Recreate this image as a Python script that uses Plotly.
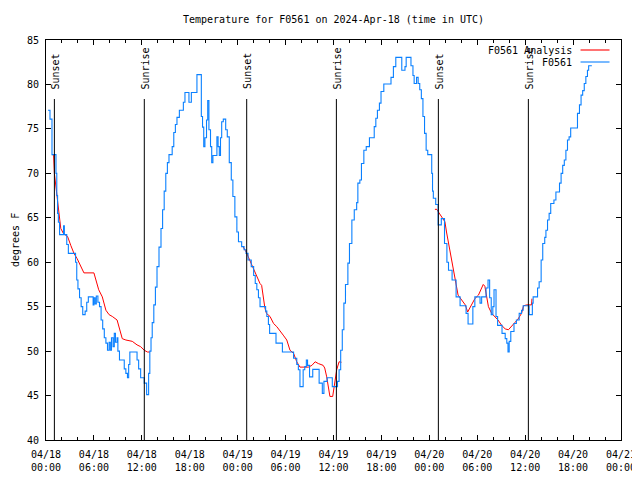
import datetime as dt
import plotly.graph_objects as go

START = dt.datetime(2024, 4, 18, 0, 0)

# ---- observed station data F0561 (hours since 04/18 00:00 UTC, deg F)
obs_hours = [0.25, 0.5, 0.75, 1.25, 1.35, 1.45, 1.55, 1.7, 2.2, 2.3, 2.6, 2.8, 3.7, 3.85, 4.0, 4.2, 4.4, 4.6,
             4.9, 5.1, 5.3, 5.9, 6.0, 6.15, 6.3, 6.5, 6.7, 6.9, 7.1, 7.3, 7.5, 7.7, 7.9, 8.05, 8.2, 8.4, 8.55,
             8.7, 8.9, 9.0, 9.2, 9.8, 10.0, 10.2, 10.35, 10.5, 11.4, 11.6, 11.85, 12.3, 12.6, 12.85, 13.0,
             13.15, 13.3, 13.5, 13.7, 13.9, 14.15, 14.4, 14.6, 14.8, 15.0, 15.2, 15.4, 15.8, 16.0, 16.2, 16.4,
             16.7, 17.2, 17.4, 17.9, 18.2, 18.9, 19.45, 19.6, 19.75, 19.9, 20.1, 20.25, 20.4, 20.6, 20.75,
             20.9, 21.4, 21.55, 21.7, 21.85, 22.0, 22.2, 22.5, 22.7, 22.95, 23.2, 23.4, 23.65, 23.9, 24.1,
             24.5, 24.8, 25.05, 25.3, 25.7, 26.0, 26.2, 26.4, 26.6, 26.8, 27.5, 27.65, 27.85, 28.0, 28.8,
             29.6, 31.0, 31.4, 31.6, 31.8, 32.2, 32.4, 32.6, 32.75, 33.0, 33.4, 34.2, 34.6, 34.8, 35.2,
             35.85, 36.5, 36.7, 36.9, 37.1, 37.3, 37.5, 37.8, 38.0, 38.3, 38.6, 38.9, 39.05, 39.3, 39.5,
             39.8, 40.1, 40.5, 41.1, 41.3, 41.5, 41.75, 41.95, 42.3, 43.2, 43.5, 43.8, 44.55, 44.95, 45.1,
             45.7, 45.95, 46.1, 46.4, 46.6, 46.8, 47.0, 47.2, 47.4, 47.6, 47.8, 48.3, 48.4, 48.5, 48.8,
             49.1, 49.5, 49.9, 50.2, 50.4, 50.85, 51.35, 51.85, 52.6, 52.85, 53.45, 53.7, 54.35, 54.55,
             55.1, 55.35, 55.55, 55.75, 55.95, 56.1, 56.35, 56.55, 57.1, 57.5, 57.7, 57.85, 58.0, 58.2,
             58.6, 58.9, 59.25, 59.55, 59.75, 60.5, 60.9, 61.0, 61.55, 61.75, 62.0, 62.2, 62.45, 62.6,
             62.8, 63.0, 63.2, 63.6, 63.85, 64.3, 64.5, 64.7, 64.9, 65.1, 65.3, 65.5, 65.7, 66.55, 66.8,
             67.0, 67.2, 67.4, 67.6, 67.8, 67.95, 68.35]
obs_temps = [77.1, 76.1, 72.1, 70.0, 67.5, 65.5, 64.5, 63.1, 64.1, 63.1, 62.0, 61.0, 60.0, 58.0, 57.0, 56.0, 55.0, 54.1,
             54.5, 55.5, 56.1, 55.2, 56.0, 55.3, 56.2, 55.5, 55.0, 53.5, 52.5, 51.5, 50.9, 50.1, 51.0, 50.1, 51.5, 50.5, 52.0,
             51.0, 51.5, 50.0, 49.0, 48.0, 47.5, 47.0, 48.5, 49.9, 49.0, 48.0, 47.0, 46.4, 45.1, 47.5, 50.0,
             51.5, 53.2, 55.2, 57.2, 59.5, 61.7, 63.8, 65.9, 68.0, 70.0, 71.2, 72.1, 73.0, 74.6, 75.5, 76.3,
             77.1, 78.0, 79.1, 78.0, 79.1, 81.1, 76.4, 75.2, 73.0, 74.0, 76.0, 78.2, 74.9, 73.0, 71.2,
             72.0, 74.1, 73.0, 72.0, 74.0, 75.8, 76.1, 74.9, 74.1, 71.2, 69.25, 67.4, 65.1, 63.4, 62.3,
             61.75, 61.4, 61.0, 60.25, 59.5, 58.5, 57.6, 56.9, 56.0, 55.0, 54.5, 53.9, 53.0, 52.0, 50.9,
             49.9, 49.2, 48.5, 47.9, 46.0, 47.9, 48.25, 49.0, 48.4, 47.1, 47.95, 46.4, 45.25, 46.6, 47.0,
             46.0, 46.6, 47.9, 50.1, 52.4, 55.4, 57.5, 59.9, 62.1, 64.75, 65.9, 66.7, 68.9, 69.25, 71.1,
             72.6, 73.0, 74.0, 75.25, 76.2, 77.1, 77.9, 79.2, 80.05, 80.8, 82.0, 83.05, 81.6, 82.0, 83.05,
             82.1, 81.0, 80.1, 80.8, 80.1, 79.4, 78.4, 76.4, 74.5, 72.6, 72.1, 70.0, 68.0, 67.2, 66.5,
             64.2, 64.9, 62.1, 60.0, 59.1, 58.0, 56.1, 55.1, 54.25, 53.05, 55.0, 56.1, 55.4, 56.1,
             57.1, 58.0, 56.0, 54.1, 55.0, 56.9, 53.9, 52.9, 52.0, 51.4, 50.9, 49.9, 51.1, 52.2,
             53.1, 53.5, 54.25, 54.6, 55.1, 54.1, 55.4, 56.1, 57.1, 57.8, 60.25, 62.1, 62.8, 63.6,
             64.75, 65.5, 66.6, 67.0, 67.9, 68.9, 70.0, 70.9, 71.5, 72.6, 73.75, 74.1, 75.1, 76.75, 77.7,
             78.8, 79.3, 80.1, 80.9, 81.6, 82.1, 82.1]

# ---- analysis (three night segments)
ana_hours_1 = [0.75, 0.95, 1.05, 1.25, 1.45, 1.6, 1.85, 2.2, 2.7, 3.1, 3.5, 3.9, 4.35, 4.75, 6.0, 6.2, 6.6,
               7.05, 7.5, 7.9, 8.3, 8.9, 9.2, 9.55, 10.0, 10.4, 10.8, 11.4, 11.85, 12.3, 12.7, 13.0]
ana_temps_1 = [72.1, 72.1, 70.0, 68.5, 66.6, 65.5, 63.8, 63.2, 62.9, 61.9, 61.0, 60.4, 59.5, 58.8, 58.8, 58.2, 56.9,
               56.1, 54.6, 54.1, 53.9, 53.5, 52.5, 51.4, 51.25, 51.2, 51.1, 50.7, 50.5, 50.1, 49.9, 49.9]
ana_hours_2 = [24.7, 25.1, 25.5, 25.95, 26.4, 26.8, 27.0, 27.2, 27.4, 27.6, 28.05, 28.5, 28.9, 29.7, 30.15,
               30.55, 31.0, 31.4, 31.8, 32.85, 33.3, 33.7, 34.1, 34.7, 34.9, 35.15, 35.35, 35.55, 35.9,
               36.05, 36.4, 36.7, 37.0]
ana_temps_2 = [61.7, 61.1, 60.25, 59.3, 58.4, 57.6, 57.4, 56.1, 54.9, 54.25, 53.9, 53.1, 52.75, 51.8, 51.25,
               50.1, 49.75, 48.8, 48.2, 48.2, 48.4, 48.8, 48.6, 48.4, 48.1, 47.1, 45.8, 44.9, 44.9,
               46.0, 47.9, 48.8, 48.75]
ana_hours_3 = [48.7, 48.95, 49.1, 49.55, 49.95, 50.15, 50.4, 50.8, 51.2, 51.6, 52.05, 52.5, 52.8, 53.3, 53.7,
               54.15, 54.75, 54.95, 55.2, 55.4, 55.8, 56.2, 56.6, 57.05, 57.5, 57.9, 58.3, 58.7, 59.1,
               59.55, 59.8, 60.2, 60.8, 60.85]
ana_temps_3 = [65.95, 65.95, 65.7, 65.1, 64.55, 63.4, 62.1, 60.25, 58.4, 56.3, 55.75, 55.2, 54.4, 55.2, 55.9,
               56.3, 57.5, 57.3, 56.1, 55.0, 54.25, 53.9, 53.5, 52.9, 52.5, 52.4, 52.75, 53.2, 53.6,
               54.25, 55.1, 55.2, 55.2, 55.9]

# ---- sun events (hours since start) and labels
event_hours = [1.05, 12.31, 25.13, 36.36, 49.13, 60.4]
event_labels = ["Sunset", "Sunrise", "Sunset", "Sunrise", "Sunset", "Sunrise"]

y_ticks = [40, 45, 50, 55, 60, 65, 70, 75, 80, 85]


def to_time(hours):
    return [START + dt.timedelta(hours=h) for h in hours]


FONT = "DejaVu Sans Mono"
RED = "#ff0000"
BLUE = "#0a80ff"

# the page body has an 8px margin, so the figure is 8px smaller and margins are reduced by 8px
FIG_W, FIG_H = 632, 472
PLOT_W = 575.5

fig = go.Figure()
for hrs, tmp in [(ana_hours_1, ana_temps_1), (ana_hours_2, ana_temps_2), (ana_hours_3, ana_temps_3)]:
    fig.add_trace(go.Scatter(x=to_time(hrs), y=tmp, mode="lines",
                             line=dict(color=RED, width=1), showlegend=False, hoverinfo="skip"))
fig.add_trace(go.Scatter(x=to_time(obs_hours), y=obs_temps, mode="lines",
                         line=dict(color=BLUE, width=1.1, shape="hv"), showlegend=False))

shapes = []
annotations = []
for t, lab in zip(to_time(event_hours), event_labels):
    shapes.append(dict(type="line", xref="x", yref="paper", x0=t, x1=t, y0=0, y1=0.8525,
                       line=dict(color="black", width=1)))
    annotations.append(dict(text=lab, x=t, y=0.872, xref="x", yref="paper", textangle=-90,
                            showarrow=False, xanchor="center", yanchor="bottom", xshift=1,
                            font=dict(family=FONT, size=10, color="black")))

# legend (gnuplot style: text then sample line)
for i, (name, col) in enumerate([("F0561 Analysis", RED), ("F0561", BLUE)]):
    yy = 0.975 - i * 0.03
    annotations.append(dict(text=name, x=(574 - 46) / PLOT_W, y=yy, xref="paper", yref="paper",
                            showarrow=False, xanchor="right", yanchor="middle",
                            font=dict(family=FONT, size=10, color="black")))
    shapes.append(dict(type="line", xref="paper", yref="paper", x0=(581 - 46) / PLOT_W, x1=(610 - 46) / PLOT_W,
                       y0=yy, y1=yy, line=dict(color=col, width=1.1)))

annotations.append(dict(text="degrees F", x=(15 - 46) / PLOT_W, y=0.5, xref="paper", yref="paper", textangle=-90,
                        showarrow=False, xanchor="center", yanchor="middle",
                        font=dict(family=FONT, size=10, color="black")))

fig.update_layout(
    width=FIG_W, height=FIG_H,
    margin=dict(l=38, r=FIG_W - 38 - PLOT_W, t=32, b=40, autoexpand=False),
    paper_bgcolor="white", plot_bgcolor="white",
    title=dict(text="Temperature for F0561 on 2024-Apr-18 (time in UTC)", x=(333.5 - 8) / FIG_W,
               y=1 - 11 / FIG_H,
               xanchor="center", yanchor="middle", font=dict(family=FONT, size=10, color="black")),
    font=dict(family=FONT, size=10, color="black"),
    shapes=shapes, annotations=annotations, showlegend=False,
)
fig.update_xaxes(
    type="date", range=[START, START + dt.timedelta(hours=72)], automargin=False,
    tick0=START, dtick=6 * 3600 * 1000, tickformat="%m/%d<br>%H:%M",
    ticks="inside", ticklen=5, tickcolor="black", showline=True, linecolor="black", linewidth=1,
    mirror="allticks", showgrid=False, zeroline=False, ticklabelstandoff=5,
    minor=dict(ticks="inside", ticklen=3, dtick=2 * 3600 * 1000, tick0=START, tickcolor="black", showgrid=False),
    tickfont=dict(family=FONT, size=10, color="black"),
)
fig.update_yaxes(
    range=[40, 85], tickvals=y_ticks, ticktext=[str(v) for v in y_ticks], automargin=False,
    ticks="inside", ticklen=5, tickcolor="black", showline=True, linecolor="black", linewidth=1,
    mirror="allticks", showgrid=False, zeroline=False, ticklabelstandoff=4,
    tickfont=dict(family=FONT, size=10, color="black"),
)

fig.write_html("out.html")
